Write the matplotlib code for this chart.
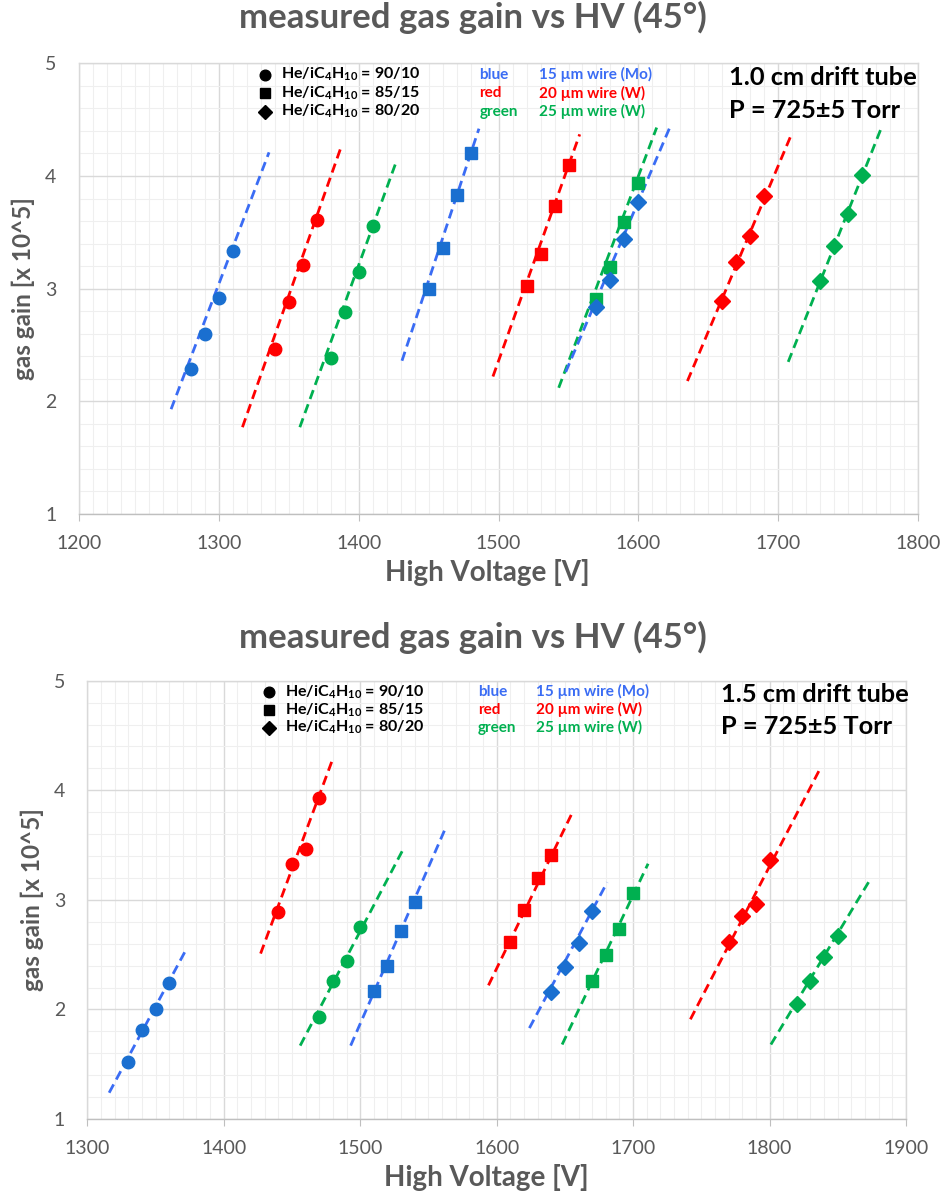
import numpy as np
import matplotlib
matplotlib.use("Agg")
import matplotlib.pyplot as plt
from matplotlib.ticker import MultipleLocator

plt.rcParams['font.family'] = ['Lato', 'DejaVu Sans']
plt.rcParams['mathtext.fontset'] = 'custom'
plt.rcParams['mathtext.rm'] = 'Lato'
plt.rcParams['mathtext.bf'] = 'Lato:bold'

# ---- 1.0 cm drift tube ----
# key = (gas mixture He/iC4H10, wire diameter in um)
top_hv = {
    ('90/10', 15): [1280, 1290, 1300, 1310],
    ('90/10', 20): [1340, 1350, 1360, 1370],
    ('90/10', 25): [1380, 1390, 1400, 1410],
    ('85/15', 15): [1450, 1460, 1470, 1480],
    ('85/15', 20): [1520, 1530, 1540, 1550],
    ('85/15', 25): [1570, 1580, 1590, 1600],
    ('80/20', 15): [1570, 1580, 1590, 1600],
    ('80/20', 20): [1660, 1670, 1680, 1690],
    ('80/20', 25): [1730, 1740, 1750, 1760],
}
top_gain = {
    ('90/10', 15): [2.29, 2.60, 2.92, 3.33],
    ('90/10', 20): [2.46, 2.88, 3.21, 3.61],
    ('90/10', 25): [2.38, 2.79, 3.15, 3.56],
    ('85/15', 15): [3.00, 3.36, 3.83, 4.20],
    ('85/15', 20): [3.02, 3.31, 3.73, 4.10],
    ('85/15', 25): [2.91, 3.19, 3.59, 3.94],
    ('80/20', 15): [2.84, 3.08, 3.44, 3.77],
    ('80/20', 20): [2.89, 3.24, 3.47, 3.82],
    ('80/20', 25): [3.07, 3.38, 3.66, 4.01],
}
# trendlines: (HV start, HV end), (gain start, gain end)
top_trend_hv = {
    ('90/10', 15): (1266, 1336),
    ('90/10', 20): (1317, 1387),
    ('90/10', 25): (1358, 1427),
    ('85/15', 15): (1431, 1486),
    ('85/15', 20): (1496, 1558),
    ('85/15', 25): (1543, 1613),
    ('80/20', 15): (1548, 1622),
    ('80/20', 20): (1635, 1709),
    ('80/20', 25): (1707, 1773),
}
top_trend_gain = {
    ('90/10', 15): (1.93, 4.21),
    ('90/10', 20): (1.77, 4.24),
    ('90/10', 25): (1.77, 4.13),
    ('85/15', 15): (2.36, 4.42),
    ('85/15', 20): (2.22, 4.37),
    ('85/15', 25): (2.12, 4.43),
    ('80/20', 15): (2.26, 4.42),
    ('80/20', 20): (2.18, 4.36),
    ('80/20', 25): (2.35, 4.41),
}

# ---- 1.5 cm drift tube ----
bot_hv = {
    ('90/10', 15): [1330, 1340, 1350, 1360],
    ('90/10', 20): [1440, 1450, 1460, 1470],
    ('90/10', 25): [1470, 1480, 1490, 1500],
    ('85/15', 15): [1510, 1520, 1530, 1540],
    ('85/15', 20): [1610, 1620, 1630, 1640],
    ('85/15', 25): [1670, 1680, 1690, 1700],
    ('80/20', 15): [1640, 1650, 1660, 1670],
    ('80/20', 20): [1770, 1780, 1790, 1800],
    ('80/20', 25): [1820, 1830, 1840, 1850],
}
bot_gain = {
    ('90/10', 15): [1.52, 1.81, 2.00, 2.24],
    ('90/10', 20): [2.89, 3.33, 3.46, 3.93],
    ('90/10', 25): [1.93, 2.26, 2.44, 2.75],
    ('85/15', 15): [2.17, 2.40, 2.72, 2.98],
    ('85/15', 20): [2.62, 2.91, 3.20, 3.41],
    ('85/15', 25): [2.26, 2.50, 2.73, 3.06],
    ('80/20', 15): [2.16, 2.39, 2.61, 2.90],
    ('80/20', 20): [2.62, 2.85, 2.96, 3.36],
    ('80/20', 25): [2.05, 2.26, 2.48, 2.67],
}
bot_trend_hv = {
    ('90/10', 15): (1316, 1373),
    ('90/10', 20): (1427, 1480),
    ('90/10', 25): (1456, 1531),
    ('85/15', 15): (1493, 1562),
    ('85/15', 20): (1594, 1656),
    ('85/15', 25): (1648, 1711),
    ('80/20', 15): (1624, 1681),
    ('80/20', 20): (1742, 1838),
    ('80/20', 25): (1801, 1873),
}
bot_trend_gain = {
    ('90/10', 15): (1.24, 2.56),
    ('90/10', 20): (2.51, 4.29),
    ('90/10', 25): (1.67, 3.45),
    ('85/15', 15): (1.67, 3.64),
    ('85/15', 20): (2.22, 3.81),
    ('85/15', 25): (1.68, 3.33),
    ('80/20', 15): (1.83, 3.16),
    ('80/20', 20): (1.91, 4.22),
    ('80/20', 25): (1.68, 3.17),
}

mixtures = ['90/10', '85/15', '80/20']
wires = [15, 20, 25]
wire_names = ['blue', 'red', 'green']
wire_labels = ['15 \u00b5m wire (Mo)', '20 \u00b5m wire (W)', '25 \u00b5m wire (W)']

marker_of = {'90/10': 'o', '85/15': 's', '80/20': 'D'}
marker_size = {'o': 9, 's': 8.5, 'D': 8}
point_color = {15: '#1a6fd0', 20: '#ff0000', 25: '#00b050'}
line_color = {15: '#3a6cf4', 20: '#ff0000', 25: '#00b050'}
text_color = {15: '#3a6cf4', 20: '#ff0000', 25: '#00b050'}

GRAY = '#595959'

fig = plt.figure(figsize=(9.45, 11.93), dpi=100)


def draw_panel(ax, hv, gain, trend_hv, trend_gain, xlim, tube, title_y):
    ax.set_xlim(*xlim)
    ax.set_ylim(1, 5)
    ax.xaxis.set_major_locator(MultipleLocator(100))
    ax.xaxis.set_minor_locator(MultipleLocator(10))
    ax.yaxis.set_major_locator(MultipleLocator(1))
    ax.yaxis.set_minor_locator(MultipleLocator(0.2))
    ax.grid(which='major', color='#d9d9d9', lw=1.0)
    ax.grid(which='minor', color='#efefef', lw=0.8)
    ax.set_axisbelow(True)
    for s in ax.spines.values():
        s.set_color('#d9d9d9')
        s.set_linewidth(1.0)
    ax.spines['bottom'].set_color('#bfbfbf')
    ax.tick_params(axis='x', which='major', length=5, color='#bfbfbf',
                   labelsize=14, labelcolor=GRAY, pad=10)
    ax.tick_params(axis='y', which='major', length=0, labelsize=14,
                   labelcolor=GRAY, pad=16)
    ax.tick_params(which='minor', length=0)

    for mix in mixtures:
        for w in wires:
            key = (mix, w)
            ax.plot(trend_hv[key], trend_gain[key], ls=(0, (3.4, 2.0)),
                    lw=2.0, color=line_color[w], zorder=2)
            m = marker_of[mix]
            ax.plot(hv[key], gain[key], ls='none', marker=m,
                    ms=marker_size[m], color=point_color[w],
                    mec=point_color[w], zorder=3)

    ax.set_xlabel('High Voltage [V]', fontsize=20, fontweight='bold',
                  color=GRAY, labelpad=5, x=0.487)
    ax.set_ylabel('gas gain [x 10^5]', fontsize=17.5, fontweight='bold',
                  color=GRAY, labelpad=7)
    fig.text(0.5, title_y, 'measured gas gain vs HV (45\u00b0)', fontsize=25,
             fontweight='bold', color=GRAY, ha='center', va='center')

    # gas mixture key (marker shapes)
    for i, mix in enumerate(mixtures):
        yy = 0.975 - i * 0.041
        m = marker_of[mix]
        ax.plot([0.222], [yy], transform=ax.transAxes, marker=m,
                ms=marker_size[m] * 0.85, color='black', ls='none',
                clip_on=False)
        ax.text(0.241, yy, r'He/iC$_\mathbf{4}$H$_\mathbf{10}$ = ' + mix,
                transform=ax.transAxes, fontsize=11.5, fontweight='bold',
                va='center', ha='left', color='black')

    # wire colour key
    for i, w in enumerate(wires):
        yy = 0.975 - i * 0.041
        ax.text(0.477, yy, wire_names[i], transform=ax.transAxes,
                fontsize=11, fontweight='bold', va='center',
                color=text_color[w])
        ax.text(0.548, yy, wire_labels[i], transform=ax.transAxes,
                fontsize=11, fontweight='bold', va='center',
                color=text_color[w])

    ax.text(0.774, 0.968, tube + ' drift tube', transform=ax.transAxes,
            fontsize=18.3, fontweight='bold', va='center', ha='left')
    ax.text(0.774, 0.896, 'P = 725\u00b15 Torr', transform=ax.transAxes,
            fontsize=18.3, fontweight='bold', va='center', ha='left')


ax_top = fig.add_axes([0.0833, 0.5692, 0.8885, 0.3777])
draw_panel(ax_top, top_hv, top_gain, top_trend_hv, top_trend_gain,
           (1200, 1800), '1.0 cm', 0.985)

ax_bot = fig.add_axes([0.0924, 0.0620, 0.8663, 0.3674])
draw_panel(ax_bot, bot_hv, bot_gain, bot_trend_hv, bot_trend_gain,
           (1300, 1900), '1.5 cm', 0.466)

fig.savefig('out.png', dpi=100)
